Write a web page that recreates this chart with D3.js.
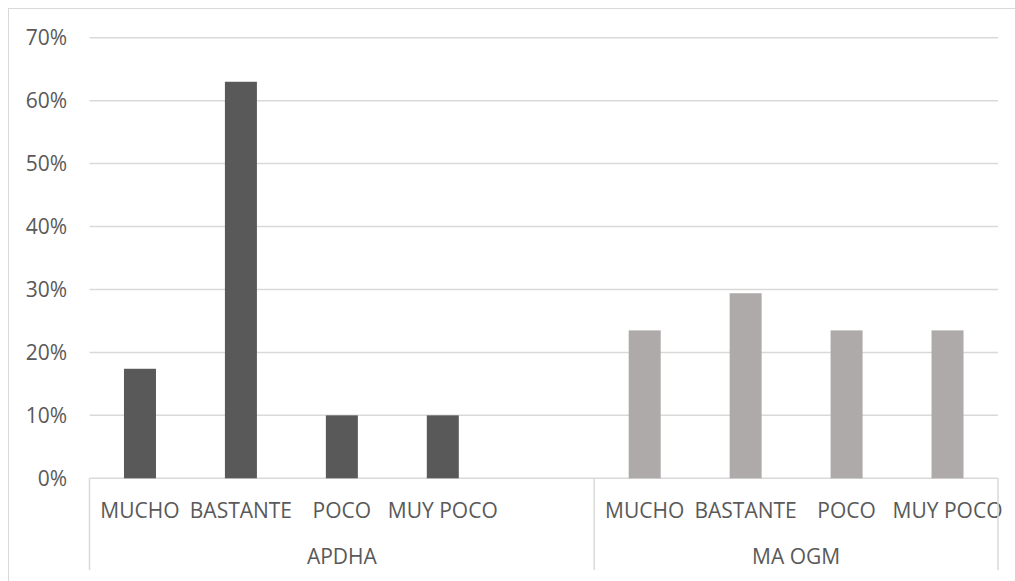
<!DOCTYPE html>
<html>
<head>
<meta charset="utf-8">
<script src="https://cdn.jsdelivr.net/npm/d3@7"></script>
<style>
  html, body { margin: 0; padding: 0; background: #fff; }
  svg { display: block; }
  text { font-family: "Open Sans", "Noto Sans", sans-serif; fill: #595959; }
</style>
</head>
<body>
<svg id="chart" width="1015" height="581"></svg>
<script>
// ---- data ----
const groups = ["APDHA", "MA OGM"];
const categories = ["MUCHO", "BASTANTE", "POCO", "MUY POCO"];
const apdhaValues = [0.174, 0.630, 0.100, 0.100];
const maogmValues = [0.235, 0.294, 0.235, 0.235];
const yTicks = [0, 0.1, 0.2, 0.3, 0.4, 0.5, 0.6, 0.7];
const seriesColors = ["#595959", "#AEAAAA"];

// slots: APDHA has 4 categories + an empty slot, MA OGM 4 categories
const slots = [];
categories.forEach((c, i) => slots.push({ key: "A" + i, group: 0, cat: c, value: apdhaValues[i] }));
slots.push({ key: "A_empty", group: 0, cat: "", value: null });
categories.forEach((c, i) => slots.push({ key: "M" + i, group: 1, cat: c, value: maogmValues[i] }));

const svg = d3.select("#chart");
const W = 1015, H = 581;
const plot = { left: 89.5, right: 998, top: 37.7, bottom: 478.3 };

// outer chart border
svg.append("rect")
  .attr("x", 8.5).attr("y", 8.5)
  .attr("width", W + 20).attr("height", H + 20)
  .attr("fill", "none").attr("stroke", "#d9d9d9").attr("stroke-width", 1);

const x = d3.scaleBand().domain(slots.map(d => d.key)).range([plot.left, plot.right]).paddingInner(0).paddingOuter(0);
const y = d3.scaleLinear().domain([0, 0.7]).range([plot.bottom, plot.top]);

// gridlines
svg.append("g").selectAll("line").data(yTicks).join("line")
  .attr("x1", plot.left).attr("x2", plot.right)
  .attr("y1", d => y(d)).attr("y2", d => y(d))
  .attr("stroke", "#d9d9d9").attr("stroke-width", 1.5);

// y tick labels
const fmt = d3.format(".0%");
svg.append("g").selectAll("text").data(yTicks).join("text")
  .attr("x", 67).attr("y", d => y(d) + 7.5)
  .attr("text-anchor", "end")
  .attr("font-size", 21)
  .text(d => fmt(d));

// bars
const barW = x.bandwidth() * 0.317;
svg.append("g").selectAll("rect").data(slots.filter(d => d.value != null)).join("rect")
  .attr("x", d => x(d.key) + (x.bandwidth() - barW) / 2)
  .attr("width", barW)
  .attr("y", d => y(d.value))
  .attr("height", d => y(0) - y(d.value))
  .attr("fill", d => seriesColors[d.group]);

// category labels
svg.append("g").selectAll("text").data(slots.filter(d => d.cat)).join("text")
  .attr("x", d => x(d.key) + x.bandwidth() / 2)
  .attr("y", 517.5)
  .attr("text-anchor", "middle")
  .attr("font-size", 21)
  .text(d => d.cat);

// group separators (multi-level axis)
const groupBounds = groups.map((g, gi) => {
  const ks = slots.filter(d => d.group === gi).map(d => d.key);
  return { name: g, x0: x(ks[0]), x1: x(ks[ks.length - 1]) + x.bandwidth() };
});
const sepXs = [groupBounds[0].x0, groupBounds[0].x1, groupBounds[1].x1];
svg.append("g").selectAll("line").data(sepXs).join("line")
  .attr("x1", d => d).attr("x2", d => d)
  .attr("y1", plot.bottom).attr("y2", 570)
  .attr("stroke", "#d9d9d9").attr("stroke-width", 1.5);

// group labels
svg.append("g").selectAll("text").data(groupBounds).join("text")
  .attr("x", d => (d.x0 + d.x1) / 2)
  .attr("y", 563.5)
  .attr("text-anchor", "middle")
  .attr("font-size", 21)
  .text(d => d.name);
</script>
</body>
</html>
